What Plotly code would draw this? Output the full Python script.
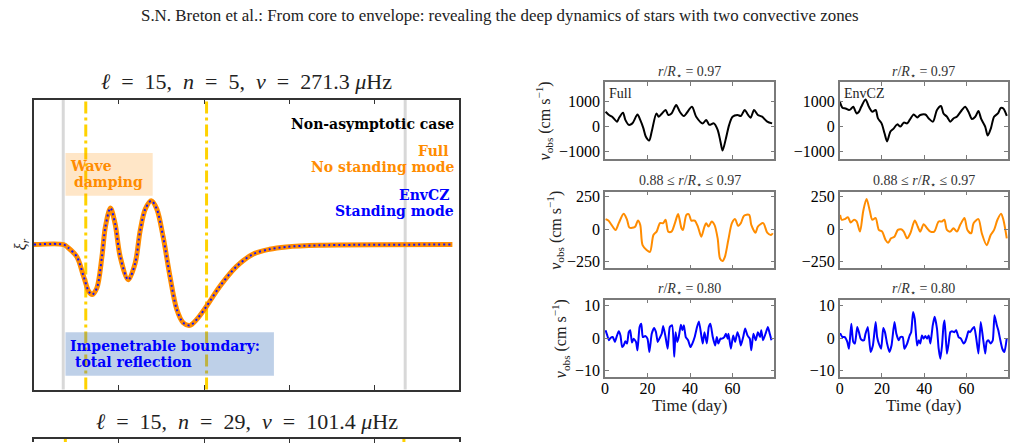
import plotly.graph_objects as go

# ---------------- data ----------------
# left panel: radial displacement profile (normalised units)
xi_x = [0.000, 0.070, 0.080, 0.101, 0.117, 0.129, 0.137, 0.148, 0.160, 0.168,
        0.180, 0.191, 0.203, 0.222, 0.238, 0.250, 0.262, 0.276, 0.289, 0.304,
        0.320, 0.336, 0.351, 0.367, 0.383, 0.406, 0.437, 0.476, 0.515, 0.554,
        0.593, 0.671, 0.984]
xi_y = [0.000, 0.000, -0.020, -0.084, -0.220, -0.323, -0.345, -0.300, -0.084, 0.120,
        0.252, 0.143, -0.084, -0.243, -0.130, 0.098, 0.245, 0.302, 0.245, 0.052,
        -0.220, -0.448, -0.539, -0.557, -0.516, -0.425, -0.289, -0.152, -0.066, -0.032,
        -0.016, -0.005, 0.000]
gray_x = [0.069, 0.873]
yellow_x = [0.122, 0.406]
yellow2_x = [0.074, 0.870]
left_ticks = [0.2, 0.4, 0.6, 0.8]

# right panels: time series (days, cm/s)
t_full_r1 = [0.3, 1.9, 3.4, 5.7, 6.5, 8.5, 9.6, 11.2, 12.9, 15.3,
             16.6, 18.1, 19.2, 20.8, 22.0, 24.2, 25.3, 26.8, 28.5, 29.8,
             31.3, 33.5, 35.2, 37.1, 40.9, 42.9, 46.0, 47.6, 49.1, 51.2,
             53.0, 54.3, 55.3, 56.9, 58.4, 60.0, 62.3, 63.9, 65.7, 67.3,
             68.5, 70.1, 71.9, 73.9, 76.3, 78.6]
v_full_r1 = [600, 470, 400, 200, 330, 560, 270, 70, 130, 490,
             270, -70, -400, -560, -200, 530, 400, 530, 670, 470,
             530, 870, 600, 430, 800, 400, 130, 270, 70, 130,
             -130, -600, -970, -470, 70, 400, 470, 430, 670, 470,
             360, 670, 470, 400, 200, 130]

t_env_r1 = [0.0, 1.3, 2.8, 4.4, 5.2, 6.4, 8.0, 9.1, 10.2, 12.2,
            13.8, 15.4, 17.0, 18.1, 19.8, 21.2, 22.4, 24.0, 25.6, 27.2,
            28.7, 30.3, 31.9, 33.1, 35.0, 36.6, 38.1, 40.5, 42.1, 44.1,
            46.0, 47.9, 49.1, 50.7, 52.3, 53.8, 55.4, 57.8, 59.3, 60.9,
            62.5, 64.1, 65.6, 66.9, 68.8, 70.0, 71.5, 73.0, 74.8, 76.2,
            77.4, 79.0]
v_env_r1 = [1030, 760, 730, 670, 700, 800, 530, 600, 800, 1100,
            800, 600, 670, 330, 130, -270, -600, -200, -70, 90,
            0, 160, 130, 270, 490, 370, 470, 490, 330, 200,
            670, 830, 530, 400, 200, 330, 400, 670, 800, 600,
            310, 400, 630, 310, 0, -360, -70, 400, 530, 760,
            730, 430]

t_full_r2 = [0.3, 1.6, 3.1, 5.0, 6.5, 8.8, 10.4, 11.5, 13.5, 14.3,
             15.5, 16.6, 17.7, 19.7, 21.2, 22.8, 24.3, 25.9, 27.4, 28.5,
             29.8, 31.3, 32.9, 34.4, 36.0, 36.7, 38.3, 39.4, 40.6, 42.2,
             43.7, 45.3, 46.8, 47.6, 48.7, 50.2, 51.5, 53.0, 54.1, 55.3,
             56.4, 58.0, 59.7, 61.2, 62.6, 63.9, 65.4, 67.8, 68.8, 70.8,
             71.9, 74.4, 76.3, 78.1, 78.9]
v_full_r2 = [78, 67, 34, -5, 47, 119, 73, 13, 13, 21,
             67, 34, -122, -161, -174, -44, -18, 47, 47, 73,
             -18, -18, 47, 117, 8, -5, 111, 117, 67, 67,
             21, -57, 21, 47, 21, 60, 34, -70, -225, -244,
             -212, -83, 47, 78, 26, 47, 104, 111, 34, -26,
             21, 47, -26, -44, -31]

t_env_r2 = [0.2, 1.0, 2.4, 3.9, 5.2, 6.8, 8.0, 9.6, 11.1, 12.7,
            14.3, 15.4, 17.0, 18.5, 20.1, 21.7, 22.9, 24.3, 25.9, 27.5,
            29.0, 30.3, 31.9, 33.4, 35.5, 36.9, 38.1, 39.7, 41.3, 42.9,
            44.7, 46.8, 48.4, 49.5, 50.7, 52.3, 53.8, 55.4, 57.0, 59.0,
            60.4, 62.2, 63.3, 65.6, 67.2, 69.5, 71.4, 73.0, 74.6, 76.3,
            77.4, 79.0]
v_env_r2 = [111, 73, 78, 93, 52, 73, 60, -18, 137, 233,
            137, 73, 86, -5, -18, -83, -104, -70, -57, -5,
            0, -18, -70, -31, 67, 21, -18, 39, 8, -18,
            -18, 60, 60, 73, -5, -18, 8, -18, 34, 86,
            -5, -31, 47, 78, -31, -122, -44, -5, 73, 119,
            73, -70]

t_full_r3 = [0.3, 1.1, 1.9, 2.6, 3.7, 4.7, 5.7, 6.5, 7.3, 8.1,
             8.8, 9.6, 10.4, 11.2, 11.9, 12.7, 13.5, 14.6, 15.3, 16.3,
             17.1, 17.8, 18.9, 20.0, 20.9, 22.0, 23.1, 24.0, 24.8, 25.6,
             26.7, 27.4, 28.5, 29.5, 30.5, 31.6, 32.6, 33.2, 34.0, 34.7,
             35.7, 36.4, 37.1, 38.0, 39.1, 40.2, 41.1, 42.2, 43.3, 44.2,
             45.3, 46.0, 46.8, 47.9, 48.8, 49.6, 50.7, 51.8, 52.6, 53.3,
             54.3, 55.0, 56.1, 56.9, 57.7, 58.1, 59.2, 60.3, 61.2, 62.3,
             63.1, 63.9, 65.0, 65.9, 67.0, 68.1, 68.8, 69.8, 70.9, 71.9,
             72.9, 73.5, 74.3, 75.5, 76.6, 77.5, 78.3]
v_full_r3 = [2.4, 0.8, -0.7, 0.0, 0.3, -1.2, 0.8, 2.1, 0.8, -2.8,
             -2.3, -1.0, -1.7, 1.8, 2.4, -1.4, -0.2, -1.2, -3.8, 3.4,
             4.4, 0.3, 0.6, -0.2, -4.3, 1.3, 3.1, 1.8, -1.2, -0.2,
             1.3, 3.7, 0.3, -3.3, 3.4, 3.9, -5.8, 1.8, -1.2, 0.3,
             4.1, 2.4, 3.9, 0.3, -0.7, -2.8, -1.7, 0.3, 3.4, 5.1,
             0.8, -1.7, 1.8, -1.7, 3.4, 4.4, 0.3, -2.3, 0.3, -1.7,
             -0.2, -0.2, 0.3, 1.3, -0.2, 1.3, -3.3, 0.8, -1.2, 1.8,
             0.3, -2.3, 0.3, 2.9, 0.8, -0.2, -3.8, 1.3, -0.7, 1.8,
             0.3, 2.4, -0.7, 1.3, 3.4, 1.3, -0.7]

t_env_r3 = [0.2, 1.3, 2.4, 3.6, 4.4, 5.5, 6.4, 7.2, 8.3, 9.1,
            9.9, 10.7, 11.5, 12.2, 13.3, 14.6, 15.7, 17.0, 17.7, 18.5,
            19.6, 20.6, 21.4, 22.4, 23.5, 24.5, 25.9, 26.8, 27.9, 28.7,
            29.8, 30.6, 31.9, 33.1, 33.8, 34.7, 35.5, 36.6, 37.4, 38.1,
            38.9, 39.7, 40.5, 41.3, 42.1, 42.9, 44.0, 44.9, 46.0, 46.8,
            47.6, 48.4, 49.1, 49.6, 50.7, 51.5, 52.3, 53.1, 54.2, 55.1,
            56.2, 57.3, 58.6, 59.3, 60.1, 60.9, 61.7, 62.8, 63.6, 64.5,
            65.6, 66.7, 67.7, 68.8, 69.5, 70.3, 71.4, 72.4, 73.2, 74.3,
            75.0, 75.8, 76.9, 77.9, 79.0]
v_env_r3 = [1.5, 0.3, 0.3, -1.2, -3.3, 4.4, -1.2, -1.7, 3.4, 1.8,
            -0.2, -0.7, -0.7, 1.3, 3.4, -4.3, -2.3, 4.9, 0.3, -1.7,
            -3.3, 3.1, 1.8, -1.7, -4.3, -2.3, 4.9, 1.3, -0.7, 0.3,
            0.3, -3.3, -1.7, 0.8, 1.8, 8.0, 5.9, -2.3, -0.7, -1.7,
            0.8, -0.2, 0.6, -0.2, 0.8, -1.7, 3.9, 6.5, 2.9, -3.3,
            -6.4, -2.3, 3.9, 5.4, -4.8, -1.7, 1.8, 2.1, 1.8, 2.4,
            0.3, -0.2, -1.7, -1.2, 0.3, 2.1, 1.8, 2.9, 3.4, 0.3,
            -4.8, 4.9, 0.3, -4.8, -1.2, -0.7, -1.7, -0.7, 7.0, 3.9,
            2.4, -0.2, -3.3, -4.3, 0.0]

row_titles = ["<i>r</i>/<i>R</i><sub>⋆</sub> = 0.97",
              "0.88 ≤ <i>r</i>/<i>R</i><sub>⋆</sub> ≤ 0.97",
              "<i>r</i>/<i>R</i><sub>⋆</sub> = 0.80"]
row_ranges = [[-1308, 1800], [-300, 290], [-12, 11.8]]
row_tickvals = [[-1000, 0, 1000], [-250, 0, 250], [-10, 0, 10]]
row_ticktext = [["−1000", "0", "1000"], ["−250", "0", "250"], ["−10", "0", "10"]]
row_colors = ["black", "#ff8c00", "#0000ff"]
time_ticks = [0, 20, 40, 60]
time_range = [0, 79.6]
col_labels = ["Full", "EnvCZ"]

series = [[(t_full_r1, v_full_r1), (t_env_r1, v_env_r1)],
          [(t_full_r2, v_full_r2), (t_env_r2, v_env_r2)],
          [(t_full_r3, v_full_r3), (t_env_r3, v_env_r3)]]

# ---------------- layout helpers ----------------
W, H = 1015, 444
def fx(p):
    return p / W
def fy(p):
    return 1 - p / H

SERIF = "Liberation Serif, Times New Roman, serif"
BOLD = "DejaVu Serif, serif"
EN = "\u2002"

fig = go.Figure()
layout = dict(width=W, height=H, margin=dict(l=0, r=0, t=0, b=0), autosize=False,
              paper_bgcolor="white", plot_bgcolor="white", showlegend=False)

# ---------- left panel ----------
L0, L1, T0, B0 = 30, 457, 97.7, 391
layout["xaxis"] = dict(domain=[fx(L0), fx(L1)], range=[0, 1], anchor="y",
                       showline=True, linecolor="#333", linewidth=1.5, mirror="ticks",
                       ticks="inside", ticklen=5, tickcolor="#333", tickwidth=1,
                       tickvals=left_ticks, showticklabels=False,
                       showgrid=False, zeroline=False)
layout["yaxis"] = dict(domain=[fy(B0), fy(T0)], range=[-1, 1], anchor="x",
                       showline=True, linecolor="#333", linewidth=1.5, mirror=True,
                       ticks="", showticklabels=False, showgrid=False, zeroline=False)

fig.add_trace(go.Scatter(x=xi_x, y=xi_y, mode="lines", xaxis="x", yaxis="y",
                         line=dict(color="#ff8c00", width=5, shape="spline", smoothing=0.9),
                         hoverinfo="skip"))
fig.add_trace(go.Scatter(x=xi_x, y=xi_y, mode="lines", xaxis="x", yaxis="y",
                         line=dict(color="#1010ff", width=2, dash="2px,3px",
                                   shape="spline", smoothing=0.9),
                         hoverinfo="skip"))

shapes = []
for gx in gray_x:
    shapes.append(dict(type="line", xref="x", yref="y domain", x0=gx, x1=gx, y0=0, y1=1,
                       line=dict(color="#d8d8d8", width=3), layer="below"))
for yx in yellow_x:
    shapes.append(dict(type="line", xref="x", yref="y domain", x0=yx, x1=yx, y0=0, y1=1,
                       line=dict(color="#ffd200", width=3, dash="12px,4px,3px,4px"),
                       layer="below"))
# text boxes
shapes.append(dict(type="rect", xref="paper", yref="paper",
                   x0=fx(61.7), x1=fx(149.3), y0=fy(195), y1=fy(151.7),
                   fillcolor="rgba(255,140,0,0.22)", line=dict(width=0), layer="above"))
shapes.append(dict(type="rect", xref="paper", yref="paper",
                   x0=fx(61.7), x1=fx(271), y0=fy(377), y1=fy(333),
                   fillcolor="rgba(70,120,190,0.35)", line=dict(width=0), layer="above"))

annotations = []
def ann(text, x, y, size, color, family, xanchor="center", angle=0, yanchor="middle"):
    annotations.append(dict(text=text, x=fx(x), y=fy(y), xref="paper", yref="paper",
                            xanchor=xanchor, yanchor=yanchor, showarrow=False,
                            textangle=angle,
                            font=dict(size=size, color=color, family=family)))

ann("S.N. Breton et al.: From core to envelope: revealing the deep dynamics of stars with two convective zones",
    498, 13, 16.9, "#222", SERIF)
ann(f"<i>ℓ</i>{EN}={EN}15,{EN}<i>n</i>{EN}={EN}5,{EN}<i>ν</i>{EN}={EN}271.3 <i>μ</i>Hz",
    243.5, 79, 22, "#222", SERIF)
ann(f"<i>ℓ</i>{EN}={EN}15,{EN}<i>n</i>{EN}={EN}29,{EN}<i>ν</i>{EN}={EN}101.4 <i>μ</i>Hz",
    243.5, 423, 22, "#222", SERIF)
ann("<i>ξ<sub>r</sub></i>", 17, 244, 16, "#222", SERIF, angle=-90)
ann("<b>Non-asymptotic case</b>", 454, 122, 14, "black", BOLD, xanchor="right")
ann("<b>Full</b>", 449, 150, 14, "#ff8c00", BOLD, xanchor="right")
ann("<b>No standing mode</b>", 454, 166, 14, "#ff8c00", BOLD, xanchor="right")
ann("<b>EnvCZ</b>", 449, 194, 14, "#0000ff", BOLD, xanchor="right")
ann("<b>Standing mode</b>", 454, 210, 14, "#0000ff", BOLD, xanchor="right")
ann("<b>Wave</b>", 64, 165, 14, "#ff8c00", BOLD, xanchor="left")
ann("<b>damping</b>", 68, 181, 14, "#ff8c00", BOLD, xanchor="left")
ann("<b>Impenetrable boundary:</b>", 64, 346.7, 14, "#0000ff", BOLD, xanchor="left")
ann("<b>total reflection</b>", 69, 362.7, 14, "#0000ff", BOLD, xanchor="left")

# ---------- second (cut) left panel ----------
layout["xaxis8"] = dict(domain=[fx(L0), fx(L1)], range=[0, 1], anchor="y8", side="top",
                        showline=True, linecolor="#333", linewidth=1.5,
                        ticks="inside", ticklen=5, tickcolor="#333",
                        tickvals=left_ticks, showticklabels=False,
                        showgrid=False, zeroline=False)
layout["yaxis8"] = dict(domain=[0, fy(440.7)], range=[0, 1], anchor="x8",
                        showline=True, linecolor="#333", linewidth=1.5, mirror=True,
                        ticks="", showticklabels=False, showgrid=False, zeroline=False)
for yx in yellow2_x:
    shapes.append(dict(type="line", xref="x8", yref="y8 domain", x0=yx, x1=yx, y0=0, y1=1,
                       line=dict(color="#ffd200", width=3), layer="below"))
fig.add_trace(go.Scatter(x=[0], y=[-5], xaxis="x8", yaxis="y8", mode="markers",
                         marker=dict(opacity=0), hoverinfo="skip"))

# ---------- right panels ----------
cols = [(603.3, 773.3), (839, 1008)]
rows = [(80, 157.7), (190.7, 268.3), (300, 378.3)]
ylab_x = [542, 553, 559]
GR = "#7a7a7a"
k = 1
for r in range(3):
    for c in range(2):
        k += 1
        xa, ya = f"xaxis{k}", f"yaxis{k}"
        layout[xa] = dict(domain=[fx(cols[c][0]), fx(cols[c][1])], range=time_range,
                          anchor=f"y{k}", showline=True, linecolor=GR, linewidth=1.5,
                          mirror="ticks", ticks="inside", ticklen=4, tickcolor=GR,
                          tickvals=time_ticks, showticklabels=(r == 2),
                          ticklabelstandoff=-4,
                          tickfont=dict(family=SERIF, size=16, color="black"),
                          showgrid=False, zeroline=False)
        layout[ya] = dict(domain=[fy(rows[r][1]), fy(rows[r][0])], range=row_ranges[r],
                          anchor=f"x{k}", showline=True, linecolor=GR, linewidth=1.5,
                          mirror="ticks", ticks="inside", ticklen=4, tickcolor=GR,
                          tickmode="array", tickvals=row_tickvals[r],
                          ticktext=row_ticktext[r],
                          tickfont=dict(family=SERIF, size=16, color="black"),
                          showgrid=False, zeroline=False)
        tt, vv = series[r][c]
        fig.add_trace(go.Scatter(x=tt, y=vv, mode="lines", xaxis=f"x{k}", yaxis=f"y{k}",
                                 line=dict(color=row_colors[r], width=2, shape="spline",
                                           smoothing=0.8 if r < 2 else 0.5),
                                 hoverinfo="skip"))
        cx = (cols[c][0] + cols[c][1]) / 2
        ann(row_titles[r], cx, rows[r][0] - 10, 14, "#333", SERIF)
        if r == 0:
            ann(col_labels[c], cols[c][0] + 2, 92, 14, "#222", SERIF, xanchor="left")
        if r == 2:
            ann("Time (day)", cx, 407, 17, "#222", SERIF)
        if c == 0:
            ann("<i>v</i><sub>obs</sub> (cm s<sup>−1</sup>)", ylab_x[r],
                (rows[r][0] + rows[r][1]) / 2, 16, "#222", SERIF, angle=-90)

layout["shapes"] = shapes
layout["annotations"] = annotations
fig.update_layout(**layout)
fig.write_html("out.html")
